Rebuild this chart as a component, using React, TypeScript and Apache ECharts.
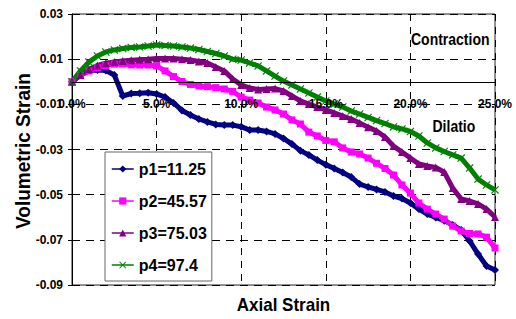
import React, { useEffect, useRef } from "react";
import * as echarts from "echarts";

const strain = [
  0, 0.5, 1, 1.5, 2, 2.5, 3, 3.5, 4, 4.5, 5, 5.5, 6, 6.5, 7, 7.5, 8, 8.5, 9, 9.5,
  10, 10.5, 11, 11.5, 12, 12.5, 13, 13.5, 14, 14.5, 15, 15.5, 16, 16.5, 17, 17.5,
  18, 18.5, 19, 19.5, 20, 20.5, 21, 21.5, 22, 22.5, 23, 23.5, 24, 24.5, 25,
];

const p1 = [
  0, 0.003, 0.005, 0.0052, 0.005, 0.003, -0.0063, -0.0052, -0.0051, -0.0049,
  -0.0054, -0.0068, -0.0094, -0.0127, -0.0147, -0.0165, -0.0178, -0.0189, -0.0192, -0.0192,
  -0.0199, -0.0214, -0.0214, -0.022, -0.0231, -0.0251, -0.0276, -0.0305, -0.0324, -0.0347,
  -0.0367, -0.0384, -0.0402, -0.0422, -0.0453, -0.0466, -0.0477, -0.0488, -0.0506, -0.0517,
  -0.0537, -0.0564, -0.0586, -0.0601, -0.0615, -0.0634, -0.0657, -0.0705, -0.0763, -0.0816,
  -0.0834,
];

const p2 = [
  0, 0.0028, 0.0048, 0.0062, 0.0072, 0.0078, 0.0079, 0.0075, 0.0074, 0.0074,
  0.007, 0.0048, 0.0023, 0.0001, -0.0012, -0.0019, -0.0022, -0.0026, -0.0032, -0.0043,
  -0.0068, -0.0081, -0.0094, -0.0112, -0.0125, -0.0143, -0.0169, -0.0187, -0.0223, -0.024,
  -0.026, -0.0266, -0.0293, -0.0311, -0.032, -0.0338, -0.0361, -0.0384, -0.0413, -0.0457,
  -0.0493, -0.0537, -0.0564, -0.0586, -0.0608, -0.0639, -0.0661, -0.0672, -0.0674, -0.0688,
  -0.0736,
];

const p3 = [
  0, 0.003, 0.0055, 0.0072, 0.0082, 0.0088, 0.0092, 0.0095, 0.0098, 0.01,
  0.0103, 0.0103, 0.0103, 0.01, 0.0096, 0.009, 0.0083, 0.0065, 0.0048, 0.0012,
  -0.0014, -0.0028, -0.0034, -0.0032, -0.003, -0.0041, -0.0063, -0.0085, -0.0099, -0.0112,
  -0.0125, -0.0138, -0.0152, -0.0165, -0.0183, -0.0201, -0.0218, -0.0245, -0.0285, -0.0311,
  -0.0338, -0.0364, -0.0373, -0.038, -0.04, -0.0471, -0.0519, -0.0528, -0.0541, -0.0564,
  -0.0599,
];

const p4 = [
  0, 0.0048, 0.0087, 0.0114, 0.0132, 0.0141, 0.0147, 0.0152, 0.0154, 0.0158,
  0.0163, 0.016, 0.0158, 0.0154, 0.0149, 0.0143, 0.0134, 0.0125, 0.0114, 0.01,
  0.0096, 0.0083, 0.007, 0.0048, 0.0025, 0.0003, -0.0014, -0.0032, -0.005, -0.0068,
  -0.0085, -0.0099, -0.0112, -0.013, -0.0143, -0.0158, -0.0172, -0.0185, -0.02, -0.0209,
  -0.022, -0.024, -0.0271, -0.0293, -0.0309, -0.0324, -0.0338, -0.0382, -0.0431, -0.0457,
  -0.0479,
];

const seriesNames = ["p1=11.25", "p2=45.57", "p3=75.03", "p4=97.4"];
const seriesValues = [p1, p2, p3, p4];
const seriesColors = ["#000080", "#FF00FF", "#800080", "#008000"];
const xSymbol =
  "path://M0,1L1,0L5,4L9,0L10,1L6,5L10,9L9,10L5,6L1,10L0,9L4,5Z";
const seriesSymbols = ["diamond", "rect", "triangle", xSymbol];
const seriesSymbolSizes = [8, 7, 8, 8];

const FONT = "'Liberation Sans', Arial, sans-serif";

const Y_MIN = -0.09;
const Y_MAX = 0.03;
const GRID_TOP = 14;
const GRID_BOTTOM = 34;
const CHART_H = 319;

export default function App() {
  const ref = useRef<HTMLDivElement>(null);

  useEffect(() => {
    document.body.style.margin = "0";
    if (!ref.current) return;
    const chart = echarts.init(ref.current, undefined, { renderer: "svg" });

    const plotH = CHART_H - GRID_TOP - GRID_BOTTOM;
    const zeroOffset = -(plotH * (0 - Y_MIN)) / (Y_MAX - Y_MIN);

    const series = seriesNames.map((name, i) => ({
      name,
      type: "line",
      xAxisIndex: 0,
      data: strain.map((s, k) => [s, seriesValues[i][k]]),
      symbol: seriesSymbols[i],
      symbolSize: seriesSymbolSizes[i],
      showAllSymbol: true,
      color: seriesColors[i],
      lineStyle: { color: seriesColors[i], width: 5 },
      itemStyle: { color: seriesColors[i] },
      z: 2,
    }));

    chart.setOption({
      animation: false,
      textStyle: { fontFamily: FONT },
      grid: {
        left: 72,
        top: GRID_TOP,
        right: 21,
        bottom: GRID_BOTTOM,
        show: true,
        borderColor: "#222",
        borderWidth: 1,
        backgroundColor: "transparent",
      },
      xAxis: [
        {
          type: "value",
          min: 0,
          max: 25,
          interval: 5,
          position: "bottom",
          axisLine: { show: false, onZero: false },
          axisTick: { show: false },
          axisLabel: { show: false },
          splitLine: {
            show: true,
            lineStyle: { color: "#000", width: 1, type: [7, 6] },
          },
          z: 0,
        },
        {
          type: "value",
          min: 0,
          max: 25,
          interval: 5,
          position: "bottom",
          offset: zeroOffset,
          axisLine: { show: true, onZero: false, lineStyle: { color: "#000", width: 1 } },
          axisTick: { show: false },
          splitLine: { show: false },
          axisLabel: {
            margin: 16,
            color: "#000",
            fontSize: 12,
            fontWeight: "bold",
            fontFamily: FONT,
            formatter: (v: number) => v.toFixed(1) + "%",
          },
          z: 5,
        },
      ],
      yAxis: {
        type: "value",
        min: Y_MIN,
        max: Y_MAX,
        interval: 0.02,
        axisLine: { show: true, onZero: false, lineStyle: { color: "#000", width: 1 } },
        axisTick: { show: true, length: 4, lineStyle: { color: "#000" } },
        splitLine: {
          show: true,
          lineStyle: { color: "#000", width: 1, type: [8, 6] },
        },
        axisLabel: {
          margin: 9,
          color: "#000",
          fontSize: 12,
          fontWeight: "bold",
          fontFamily: FONT,
          formatter: (v: number) => v.toFixed(2),
        },
      },
      legend: {
        orient: "vertical",
        left: 105,
        top: 152,
        padding: [9, 5, 8, 6],
        itemGap: 16,
        itemWidth: 22,
        itemHeight: 9,
        backgroundColor: "#fff",
        borderColor: "#666",
        borderWidth: 1,
        lineStyle: { width: 1.5 },
        textStyle: {
          color: "#000",
          fontSize: 16,
          fontWeight: "bold",
          fontFamily: FONT,
        },
        data: seriesNames,
        z: 10,
      },
      graphic: [
        {
          type: "text",
          x: 411,
          y: 39.5,
          scaleY: 1.15,
          style: {
            text: "Contraction",
            fontSize: 14,
            fontWeight: "bold",
            fontFamily: FONT,
            fill: "#000",
            align: "left",
            textAlign: "left",
            verticalAlign: "middle",
            textVerticalAlign: "middle",
          },
          z: 20,
        },
        {
          type: "text",
          x: 432.5,
          y: 126.5,
          scaleY: 1.15,
          style: {
            text: "Dilatio",
            fontSize: 14,
            fontWeight: "bold",
            fontFamily: FONT,
            fill: "#000",
            align: "left",
            textAlign: "left",
            verticalAlign: "middle",
            textVerticalAlign: "middle",
          },
          z: 20,
        },
        {
          type: "text",
          x: 283.5,
          y: 305,
          scaleY: 1.1,
          style: {
            text: "Axial Strain",
            fontSize: 17,
            fontWeight: "bold",
            fontFamily: FONT,
            fill: "#000",
            align: "center",
            textAlign: "center",
            verticalAlign: "middle",
            textVerticalAlign: "middle",
          },
          z: 20,
        },
        {
          type: "text",
          x: 22.5,
          y: 151,
          rotation: Math.PI / 2,
          scaleY: 1.1,
          style: {
            text: "Volumetric Strain",
            fontSize: 19,
            fontWeight: "bold",
            fontFamily: FONT,
            fill: "#000",
            align: "center",
            textAlign: "center",
            verticalAlign: "middle",
            textVerticalAlign: "middle",
          },
          z: 20,
        },
      ],
      series,
    });

    return () => {
      chart.dispose();
    };
  }, []);

  return <div ref={ref} style={{ width: 516, height: 319 }} />;
}
